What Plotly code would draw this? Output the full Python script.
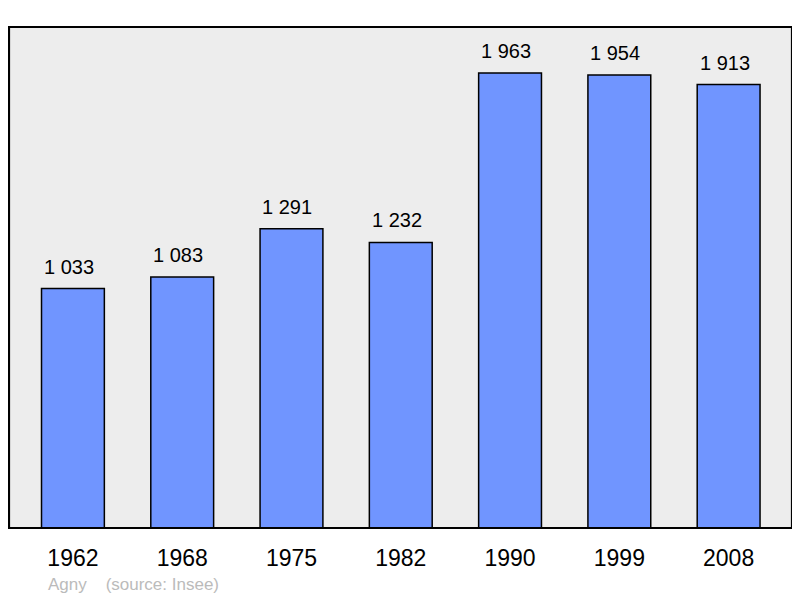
import plotly.graph_objects as go

years = ["1962", "1968", "1975", "1982", "1990", "1999", "2008"]
population = [1033, 1083, 1291, 1232, 1963, 1954, 1913]
labels = ["1 033", "1 083", "1 291", "1 232", "1 963", "1 954", "1 913"]

fig = go.Figure()
fig.add_trace(go.Bar(
    x=list(range(len(years))), y=population,
    width=0.575,
    marker=dict(color="#7095FF", line=dict(color="#000000", width=1.5)),
    hoverinfo="skip",
))

for i, (v, t) in enumerate(zip(population, labels)):
    fig.add_annotation(x=i, y=v, text=t, showarrow=False, yanchor="middle",
                       yshift=22, xshift=-4, font=dict(size=20, color="#000000"))

fig.add_shape(type="rect", xref="paper", yref="paper", x0=0, y0=0, x1=1, y1=1,
              line=dict(color="#000000", width=2.2), layer="above")

fig.add_annotation(xref="paper", yref="paper", x=(46 - 9) / 783, y=-(584 - 528) / 501,
                   xanchor="left", yanchor="middle", showarrow=False,
                   text="Agny&nbsp;&nbsp;&nbsp;&nbsp;(source: Insee)",
                   font=dict(size=17, color="#BBBBBB"))

# page body has an 8px margin: size and margins compensate for it
fig.update_layout(
    width=792, height=590,
    margin=dict(l=1, r=8, t=19, b=70),
    paper_bgcolor="#FFFFFF", plot_bgcolor="#EDEDED",
    font=dict(family="Liberation Sans, Arial, sans-serif", color="#000000"),
    showlegend=False,
    bargap=0.4,
)
fig.update_xaxes(range=[-0.585, 6.58], tickmode="array", tickvals=list(range(len(years))),
                 ticktext=years, tickfont=dict(size=23), showgrid=False, zeroline=False,
                 ticks="outside", ticklen=9, tickcolor="rgba(0,0,0,0)", showline=False)
fig.update_yaxes(range=[0, 2161], showgrid=False, zeroline=False, showticklabels=False,
                 showline=False)

fig.write_html("out.html")
